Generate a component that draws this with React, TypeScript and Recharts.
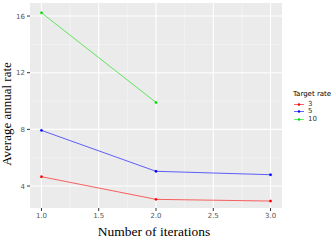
import React from "react";
import {
  LineChart,
  Line,
  XAxis,
  YAxis,
  CartesianGrid,
  Label,
} from "recharts";

const iterations = [1, 2, 3];
const rate3 = [4.66, 3.06, 2.94];
const rate5 = [7.93, 5.04, 4.8];
const rate10 = [16.23, 9.9, null];

const xTicks = [1, 1.5, 2, 2.5, 3];
const yTicks = [4, 8, 12, 16];
const xMinor = [1.25, 1.75, 2.25, 2.75];
const yMinor = [6, 10, 14];

const series = [
  { key: "r3", name: "3", color: "#ff0000" },
  { key: "r5", name: "5", color: "#0000ff" },
  { key: "r10", name: "10", color: "#00e000" },
];

const data = iterations.map((it, i) => ({
  it,
  r3: rate3[i],
  r5: rate5[i],
  r10: rate10[i],
}));

const tickStyle = { fontSize: 7, fill: "#555", fontFamily: "DejaVu Sans" };

export default function App() {
  return (
    <div style={{ position: "absolute", left: 0, top: 0, width: 336, height: 240, background: "#fff" }}>
      <LineChart
        width={336}
        height={240}
        data={data}
        margin={{ top: 3, right: 54, bottom: 0, left: 0 }}
      >
        <CartesianGrid
          fill="#ebebeb"
          stroke="#f7f7f7"
          strokeWidth={0.6}
          horizontalValues={yMinor}
          verticalValues={xMinor}
        />
        <CartesianGrid
          stroke="#ffffff"
          strokeWidth={1.1}
          horizontalValues={yTicks}
          verticalValues={xTicks}
        />
        <XAxis
          dataKey="it"
          type="number"
          domain={[0.9, 3.1]}
          ticks={xTicks}
          tickFormatter={(v: number) => v.toFixed(1)}
          tick={tickStyle}
          axisLine={false}
          tickSize={3}
          tickLine={{ stroke: "#333" }}
          height={32}
        >
          <Label
            value="Number of iterations"
            position="insideBottom"
            offset={4}
            dx={-2}
            style={{ fontSize: 13.5, fill: "#000", fontFamily: "Liberation Serif" }}
          />
        </XAxis>
        <YAxis
          type="number"
          domain={[2.45, 16.92]}
          ticks={yTicks}
          tick={tickStyle}
          axisLine={false}
          tickSize={3}
          tickLine={{ stroke: "#333" }}
          width={30}
          allowDataOverflow
        >
          <Label
            value="Average annual rate"
            angle={-90}
            position={{ x: 11, y: 111 }}
            style={{ fontSize: 13, fill: "#000", fontFamily: "Liberation Serif", textAnchor: "middle" }}
          />
        </YAxis>
        {series.map((s) => (
          <Line
            key={s.key}
            dataKey={s.key}
            name={s.name}
            stroke={s.color}
            strokeOpacity={0.6}
            strokeWidth={1}
            dot={{ r: 1.2, fill: s.color, stroke: s.color, strokeWidth: 0.5 }}
            isAnimationActive={false}
            connectNulls={false}
          />
        ))}
      </LineChart>
      <div style={{ position: "absolute", left: 293, top: 91, fontFamily: "DejaVu Sans", fontSize: 7, color: "#000", lineHeight: "7.5px" }}>
        <div style={{ marginBottom: 2 }}>Target rate</div>
        {series.map((s) => (
          <div key={s.key} style={{ display: "flex", alignItems: "center", height: 7.5, color: "#333" }}>
            <svg width={12} height={7} style={{ marginRight: 3 }}>
              <line x1={1} y1={3.5} x2={11} y2={3.5} stroke={s.color} strokeOpacity={0.6} strokeWidth={1} />
              <circle cx={6} cy={3.5} r={1.2} fill={s.color} />
            </svg>
            <span>{s.name}</span>
          </div>
        ))}
      </div>
    </div>
  );
}
